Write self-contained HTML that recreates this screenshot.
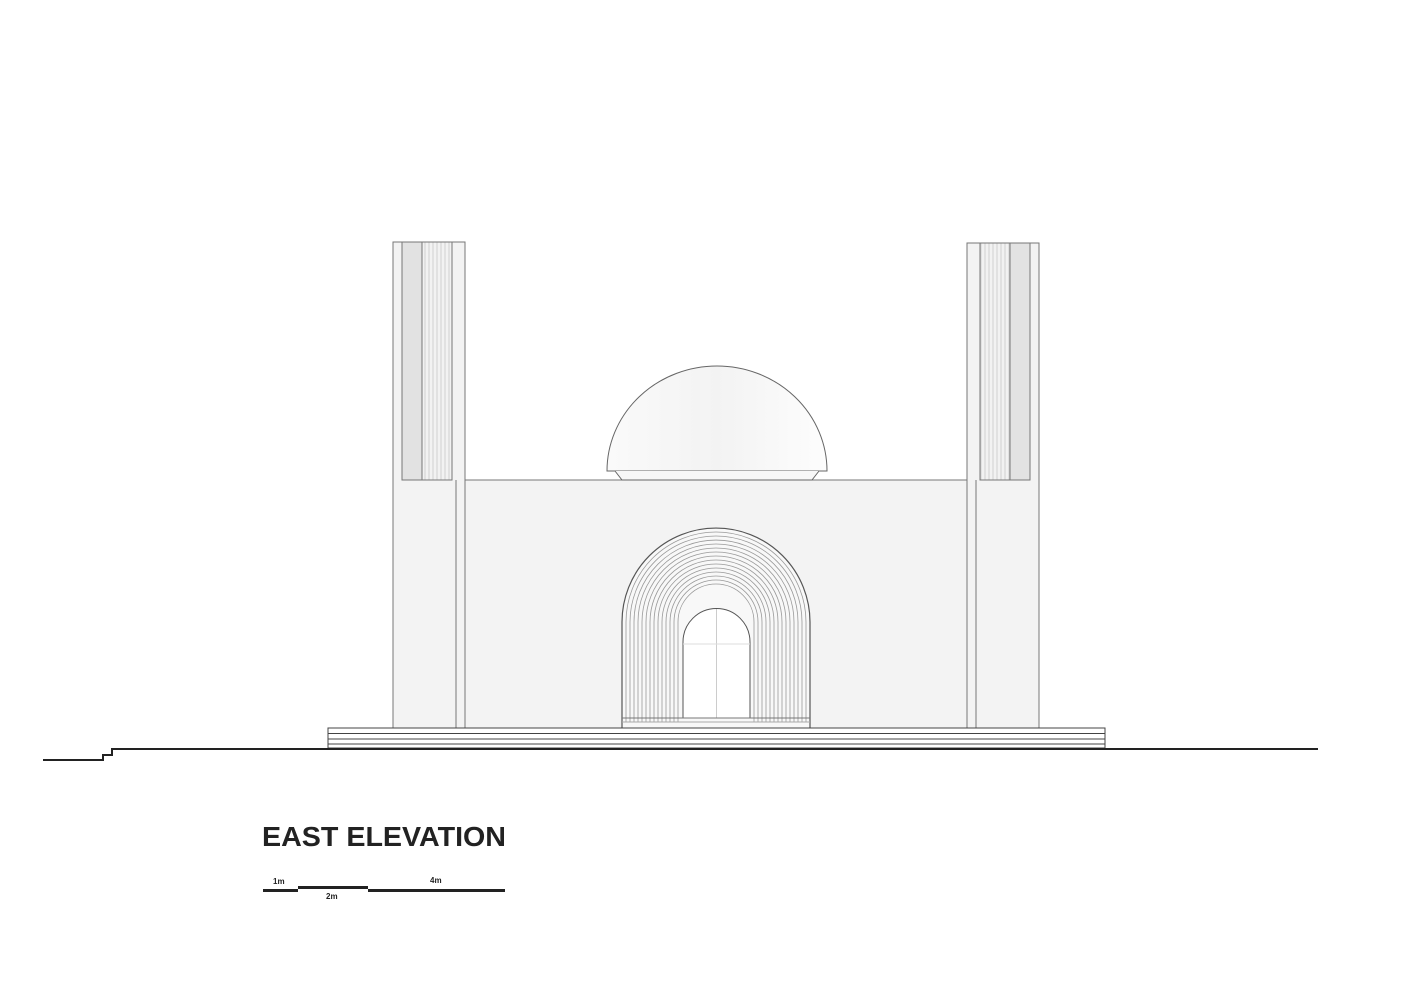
<!DOCTYPE html>
<html><head><meta charset="utf-8"><style>
body{margin:0;background:#fff;width:1418px;height:1000px;overflow:hidden}
svg{display:block}
</style></head><body>
<svg width="1418" height="1000" viewBox="0 0 1418 1000" xmlns="http://www.w3.org/2000/svg">
<defs>
<pattern id="stripes" width="4" height="10" patternUnits="userSpaceOnUse">
<rect width="4" height="10" fill="#f2f2f2"/><line x1="1" y1="0" x2="1" y2="10" stroke="#c8c8c8" stroke-width="0.8"/>
</pattern>
<linearGradient id="dome" x1="0" x2="1"><stop offset="0" stop-color="#fafafa"/><stop offset="0.5" stop-color="#f3f3f3"/><stop offset="1" stop-color="#fdfdfd"/></linearGradient>
</defs>
<!-- brick areas -->
<rect x="393" y="242" width="72" height="486" fill="#f3f3f3" stroke="#777" stroke-width="1"/>
<rect x="967" y="243" width="72" height="485" fill="#f3f3f3" stroke="#777" stroke-width="1"/>
<rect x="465" y="480" width="502" height="248" fill="#f3f3f3" stroke="#777" stroke-width="1"/>
<!-- tower panels -->
<rect x="402" y="242" width="20" height="238" fill="#e2e2e2" stroke="#777" stroke-width="1"/>
<rect x="422" y="242" width="30" height="238" fill="url(#stripes)" stroke="#777" stroke-width="1"/>
<rect x="1010" y="243" width="20" height="237" fill="#e2e2e2" stroke="#777" stroke-width="1"/>
<rect x="980" y="243" width="30" height="237" fill="url(#stripes)" stroke="#777" stroke-width="1"/>
<!-- dividers -->
<line x1="456" y1="480" x2="456" y2="728" stroke="#777"/>
<line x1="976" y1="480" x2="976" y2="728" stroke="#777"/>
<line x1="465" y1="480" x2="465" y2="728" stroke="#777"/>
<line x1="967" y1="480" x2="967" y2="728" stroke="#777"/>
<!-- dome -->
<path d="M607 471 A110 105 0 0 1 827 471 Z" fill="url(#dome)" stroke="#666" stroke-width="1"/>
<path d="M615 471 L622 480 L812 480 L819 471" fill="#f7f7f7" stroke="#666" stroke-width="1"/>
<!-- arch -->
<g fill="none" stroke="#999" stroke-width="0.8">
<path d="M622 728 V622 A94 94 0 0 1 810 622 V728" fill="#f8f8f8" stroke="#555" stroke-width="1.2"/>
<path d="M626 722 V622 A90 90 0 0 1 806 622 V722"/>
<path d="M630 722 V622 A86 86 0 0 1 802 622 V722"/>
<path d="M634 722 V622 A82 82 0 0 1 798 622 V722"/>
<path d="M638 722 V622 A78 78 0 0 1 794 622 V722"/>
<path d="M642 722 V622 A74 74 0 0 1 790 622 V722"/>
<path d="M646 722 V622 A70 70 0 0 1 786 622 V722"/>
<path d="M650 722 V622 A66 66 0 0 1 782 622 V722"/>
<path d="M654 722 V622 A62 62 0 0 1 778 622 V722"/>
<path d="M658 722 V622 A58 58 0 0 1 774 622 V722"/>
<path d="M662 722 V622 A54 54 0 0 1 770 622 V722"/>
<path d="M666 722 V622 A50 50 0 0 1 766 622 V722"/>
<path d="M670 722 V622 A46 46 0 0 1 762 622 V722"/>
<path d="M674 722 V622 A42 42 0 0 1 758 622 V722"/>
<path d="M678 722 V622 A38 38 0 0 1 754 622 V722"/>
</g>
<path d="M683 718 V642 A33.5 33.5 0 0 1 750 642 V718 Z" fill="#fff" stroke="#555" stroke-width="1"/>
<line x1="716.5" y1="609" x2="716.5" y2="718" stroke="#ccc"/>
<line x1="683" y1="644" x2="750" y2="644" stroke="#ddd"/>
<line x1="622" y1="718" x2="810" y2="718" stroke="#777"/>
<line x1="622" y1="722" x2="810" y2="722" stroke="#aaa"/>
<!-- platform -->
<rect x="328" y="728" width="777" height="20" fill="#fff" stroke="#444" stroke-width="1"/>
<line x1="328" y1="733.5" x2="1105" y2="733.5" stroke="#444"/>
<line x1="328" y1="739" x2="1105" y2="739" stroke="#444"/>
<line x1="328" y1="744" x2="1105" y2="744" stroke="#444"/>
<!-- ground -->
<polyline points="43,760 103,760 103,755 112,755 112,749 1318,749" fill="none" stroke="#222" stroke-width="2"/>
<!-- title -->
<text x="262" y="846" font-family="Liberation Sans, sans-serif" font-weight="bold" font-size="28" fill="#222" textLength="244" lengthAdjust="spacingAndGlyphs">EAST ELEVATION</text>
<!-- scale -->
<g fill="#222">
<rect x="263" y="889" width="35" height="3"/>
<rect x="298" y="886" width="70" height="3"/>
<rect x="368" y="889" width="137" height="3"/>
</g>
<g font-family="Liberation Sans, sans-serif" font-weight="bold" font-size="8" fill="#222">
<text x="273" y="884">1m</text>
<text x="326" y="899">2m</text>
<text x="430" y="883">4m</text>
</g>
</svg>
</body></html>
